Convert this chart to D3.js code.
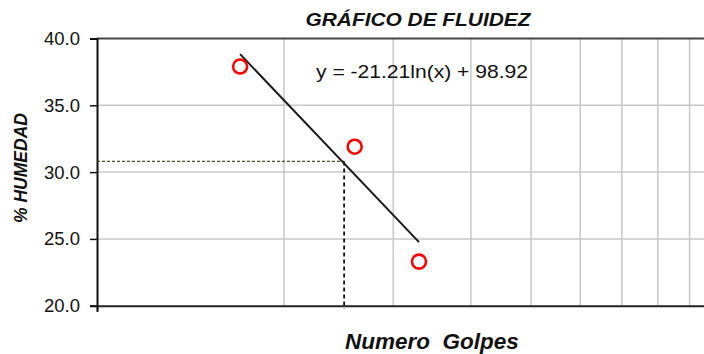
<!DOCTYPE html>
<html>
<head>
<meta charset="utf-8">
<script src="https://cdn.jsdelivr.net/npm/d3@7"></script>
<style>
  body { margin: 0; background: #fff; }
  svg { display: block; font-family: "Liberation Sans", Arial, sans-serif; }
</style>
</head>
<body>
<svg id="chart"></svg>
<script>
// datos del ensayo
const golpes = [17, 26, 33];
const humedad = [37.9, 31.9, 23.3];
const coefA = -21.21;
const coefB = 98.92;
const golpesRef = 25;
const humedadRef = 30.8;
const yTicks = [20, 25, 30, 35, 40];
const xGrid = [20, 30, 40, 50, 60, 70, 80, 90, 100];

const width = 704;
const height = 354;
const plotLeft = 97, plotTop = 38.5, plotBottom = 305.7, plotRight = 718;

const svg = d3.select('#chart')
    .attr('width', width)
    .attr('height', height);

const x = d3.scaleLog()
    .domain([10, 100])
    .range([plotLeft, plotRight]);
const y = d3.scaleLinear()
    .domain([20, 40])
    .range([plotBottom, plotTop]);

// grid
svg.append('g')
    .selectAll('line')
    .data(xGrid)
    .enter().append('line')
        .attr('x1', d => x(d)).attr('x2', d => x(d))
        .attr('y1', plotTop).attr('y2', plotBottom)
        .attr('stroke', '#c8c8c8')
        .attr('stroke-width', 1.5);

svg.append('g')
    .selectAll('line')
    .data(yTicks.filter(d => d > 20 && d < 40))
    .enter().append('line')
        .attr('x1', plotLeft).attr('x2', width)
        .attr('y1', d => y(d)).attr('y2', d => y(d))
        .attr('stroke', '#c8c8c8')
        .attr('stroke-width', 1.5);

// borde superior
svg.append('line')
    .attr('x1', plotLeft).attr('x2', width)
    .attr('y1', y(40)).attr('y2', y(40))
    .attr('stroke', '#444')
    .attr('stroke-width', 2);

// ejes
const yAxis = svg.append('g')
    .attr('transform', `translate(${plotLeft},0)`)
    .call(d3.axisLeft(y).tickValues(yTicks).tickSize(7).tickPadding(10).tickFormat(d3.format('.1f')));
yAxis.select('.domain').attr('stroke', '#111').attr('stroke-width', 2);
yAxis.selectAll('.tick line').attr('stroke', '#111').attr('stroke-width', 1.5);
yAxis.selectAll('.tick text')
    .attr('font-size', 18.5)
    .attr('fill', '#111')
    .attr('font-family', '"Liberation Sans", Arial, sans-serif');

const xAxis = svg.append('g')
    .attr('transform', `translate(0,${plotBottom})`)
    .call(d3.axisBottom(x).tickValues([10]).tickSize(6).tickFormat(''));
xAxis.select('.domain').attr('stroke', '#222').attr('stroke-width', 2);
xAxis.selectAll('.tick line').attr('stroke', '#111').attr('stroke-width', 1.5);

// lineas de referencia (25 golpes)
svg.append('line')
    .attr('x1', x(10)).attr('x2', x(golpesRef))
    .attr('y1', y(humedadRef)).attr('y2', y(humedadRef))
    .attr('stroke', '#4d4d22')
    .attr('stroke-width', 1.2)
    .attr('stroke-dasharray', '3,2');
svg.append('line')
    .attr('x1', x(golpesRef)).attr('x2', x(golpesRef))
    .attr('y1', y(humedadRef)).attr('y2', plotBottom + 3)
    .attr('stroke', '#111')
    .attr('stroke-width', 1.8)
    .attr('stroke-dasharray', '4,3');

// linea de tendencia logaritmica
const trend = golpes.map(g => [g, coefA * Math.log(g) + coefB]);
const line = d3.line()
    .x(d => x(d[0]))
    .y(d => y(d[1]));
svg.append('path')
    .datum([trend[0], trend[trend.length - 1]])
    .attr('d', line)
    .attr('fill', 'none')
    .attr('stroke', '#1a1a1a')
    .attr('stroke-width', 2);

// puntos
svg.append('g')
    .selectAll('circle')
    .data(golpes.map((g, i) => ({ g: g, h: humedad[i] })))
    .enter().append('circle')
        .attr('cx', d => x(d.g))
        .attr('cy', d => y(d.h))
        .attr('r', 7)
        .attr('fill', 'none')
        .attr('stroke', '#ff0000')
        .attr('stroke-width', 2.6);

// textos
svg.append('text')
    .attr('x', 418).attr('y', 26)
    .attr('text-anchor', 'middle')
    .attr('font-size', 19)
    .attr('font-weight', 'bold')
    .attr('font-style', 'italic')
    .attr('fill', '#111')
    .attr('textLength', 225)
    .attr('lengthAdjust', 'spacingAndGlyphs')
    .text('GRÁFICO DE FLUIDEZ');

svg.append('text')
    .attr('x', 422).attr('y', 78)
    .attr('text-anchor', 'middle')
    .attr('font-size', 19)
    .attr('fill', '#111')
    .attr('textLength', 212)
    .attr('lengthAdjust', 'spacingAndGlyphs')
    .text(`y = ${coefA}ln(x) + ${coefB}`);

svg.append('text')
    .attr('x', 432).attr('y', 349)
    .attr('text-anchor', 'middle')
    .attr('font-size', 22.5)
    .attr('font-weight', 'bold')
    .attr('font-style', 'italic')
    .attr('fill', '#111')
    .style('white-space', 'pre')
    .text('Numero  Golpes');

svg.append('text')
    .attr('transform', 'translate(27,168) rotate(-90)')
    .attr('text-anchor', 'middle')
    .attr('font-size', 17.5)
    .attr('font-weight', 'bold')
    .attr('font-style', 'italic')
    .attr('fill', '#111')
    .text('% HUMEDAD');
</script>
</body>
</html>
